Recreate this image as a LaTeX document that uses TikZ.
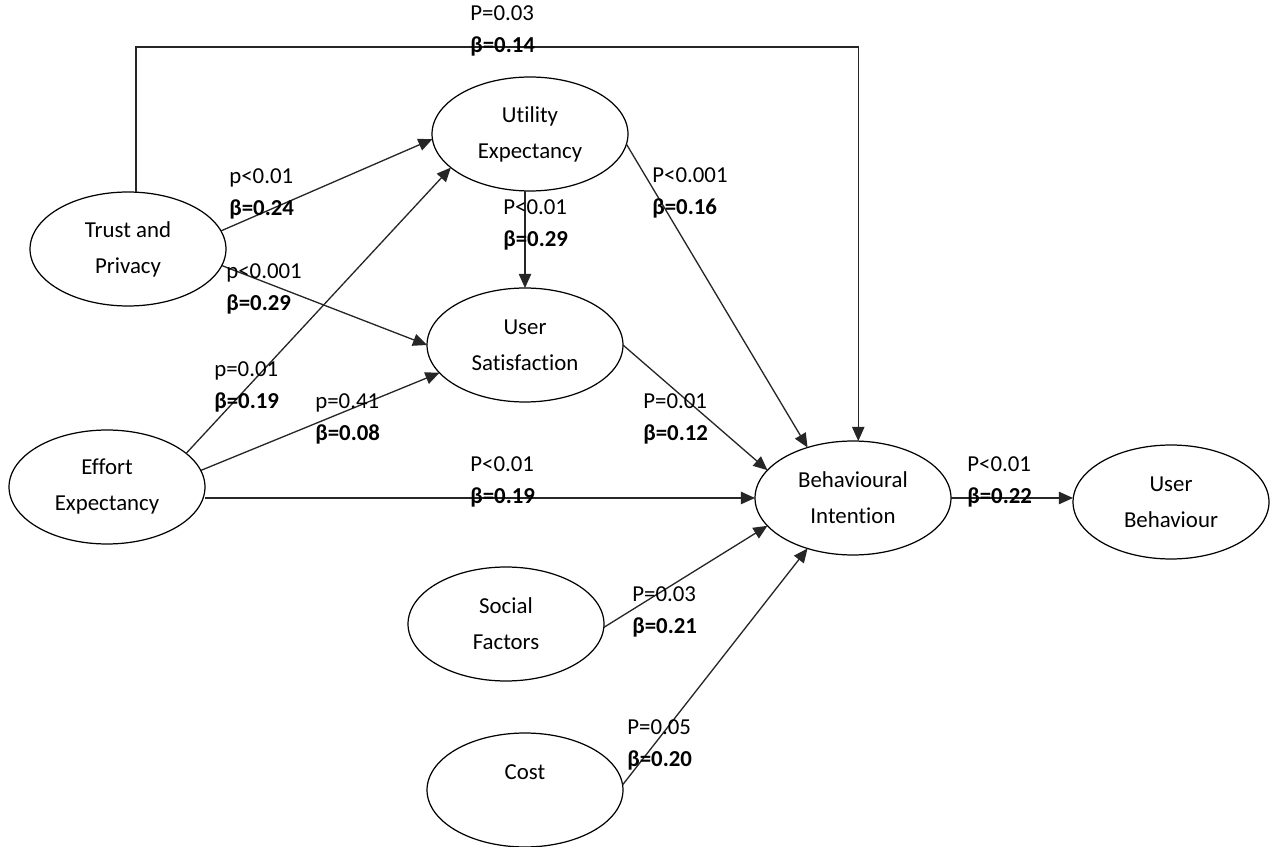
\documentclass[tikz,border=0pt]{standalone}
\usepackage{fontspec}
\setmainfont[Ligatures={NoCommon,NoContextual}]{Carlito}
\usetikzlibrary{arrows.meta,shapes.geometric}

\begin{document}
\begin{tikzpicture}[x=0.02cm,y=-0.02cm,
      cons/.style={draw,ellipse,line width=0.7pt,minimum width=3.92cm,
                   minimum height=2.28cm,inner sep=1pt,outer sep=0pt,
                   align=center,font=\fontsize{13pt}{20.5pt}\selectfont},
      lbl/.style={anchor=west,align=left,inner sep=0pt,
                  font=\fontsize{13pt}{18pt}\selectfont},
      arr/.style={-{Triangle[length=8pt,width=7pt]},line width=0.75pt,
                  color=black!85}]
    \useasboundingbox (0,0) rectangle (1271,847);
    % constructs
    \node[cons] (tp) at (128,249) {Trust and\\Privacy};
    \node[cons] (ue) at (530,134) {Utility\\Expectancy};
    \node[cons] (us) at (525,345) {User\\Satisfaction};
    \node[cons] (ee) at (107,487) {Effort\\Expectancy};
    \node[cons] (bi) at (853,498) {Behavioural\\Intention};
    \node[cons] (ub) at (1171,502) {User\\Behaviour};
    \node[cons] (sf) at (506,624) {Social\\Factors};
    \node[cons] (co) at (525,790) {Cost\\~};
    % paths
    \coordinate (top) at (500,47);
    \draw[arr] (tp.82) |- (top) -| ([xshift=3pt]bi.north);
    \draw[arr] (tp.11) -- (ue.183);
    \draw[arr] (tp.-10) -- (us.west);
    \draw[arr] (ee.23) -- (ue.203);
    \draw[arr] (ee.10) -- (us.198);
    \draw[arr] (ee.east |- bi.west) -- (bi.west);
    \draw[arr] (us.north |- ue.south) -- (us.north);
    \draw[arr] (ue.-6) -- (bi.132);
    \draw[arr] (us.east) -- (bi.162);
    \draw[arr] (sf.-2) -- (bi.198);
    \draw[arr] (co.3) -- (bi.228);
    \draw[arr] (bi.east) -- (bi.east -| ub.west);
    % estimates
    \node[lbl] (l1) at (470,31) {P=0.03\\\textbf{β=0.14}};
    \node[lbl] (l2) at (229,194) {p<0.01\\\textbf{β=0.24}};
    \node[lbl] (l3) at (503,225) {P<0.01\\\textbf{β=0.29}};
    \node[lbl] (l4) at (652,193) {P<0.001\\\textbf{β=0.16}};
    \node[lbl] (l5) at (226,289) {p<0.001\\\textbf{β=0.29}};
    \node[lbl] (l6) at (214,387) {p=0.01\\\textbf{β=0.19}};
    \node[lbl] (l7) at (315,419) {p=0.41\\\textbf{β=0.08}};
    \node[lbl] (l8) at (643,419) {P=0.01\\\textbf{β=0.12}};
    \node[lbl] (l9) at (470,482) {P<0.01\\\textbf{β=0.19}};
    \node[lbl] (l10) at (967,482) {P<0.01\\\textbf{β=0.22}};
    \node[lbl] (l11) at (632,612) {P=0.03\\\textbf{β=0.21}};
    \node[lbl] (l12) at (627,745) {P=0.05\\\textbf{β=0.20}};
  \end{tikzpicture}
\end{document}
